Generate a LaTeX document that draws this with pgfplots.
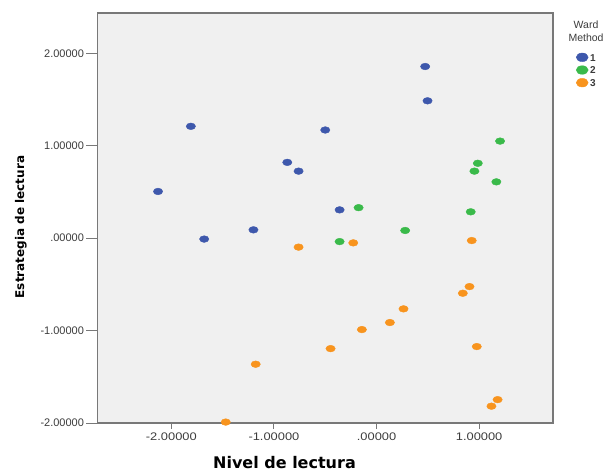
\documentclass[border=0pt]{standalone}
\usepackage{fontspec}
\setmainfont{Liberation Sans}
\newfontfamily\dejavu{DejaVu Sans}
\usepackage{pgfplots}
\pgfplotsset{compat=1.18}
\definecolor{wblue}{RGB}{62,88,172}
\definecolor{wgreen}{RGB}{58,186,74}
\definecolor{worange}{RGB}{248,148,30}
\definecolor{bgc}{RGB}{240,240,240}
\definecolor{framec}{RGB}{120,120,120}
\definecolor{tickc}{RGB}{60,60,60}
\newcommand{\xt}[1]{\scalebox{1.17}[1]{#1}}
\begin{document}
\begin{tikzpicture}[x=1pt,y=1pt]
\useasboundingbox (-97.5,-49) rectangle (515.5,423);
\begin{axis}[
  at={(0,0)}, anchor=south west,
  scale only axis, width=455.5pt, height=410pt,
  xmin=-2.72, xmax=1.72, ymin=-2.0, ymax=2.436,
  axis background/.style={fill=bgc},
  axis line style={framec, line width=1.4pt},
  xtick={-2,-1,0,1},
  xticklabels={\xt{-2.00000},\xt{-1.00000},\xt{.00000},\xt{1.00000}},
  ytick={-2,-1,0,1,2},
  yticklabels={-2.00000,-1.00000,.00000,1.00000,2.00000},
  tick align=outside, tick pos=left, major tick length=6pt,
  tick style={framec, line width=1pt},
  ytick style={/pgfplots/major tick length=11pt},
  tick label style={font=\fontsize{11}{12}\selectfont, text=tickc},
  yticklabel style={xshift=-4pt},
  xlabel={Nivel de lectura}, ylabel={Estrategia de lectura},
  xlabel style={font=\dejavu\bfseries\fontsize{16}{18}\selectfont, at={(axis description cs:0.4105,-0.1105)}, anchor=base, inner sep=0pt},
  ylabel style={font=\dejavu\bfseries\fontsize{12}{14}\selectfont, at={(axis description cs:-0.168,0.478)}, anchor=center, rotate=0},
  clip=false,
  legend style={at={(axis description cs:1.0505,0.904)}, anchor=north west, draw=none, fill=none, inner sep=0pt,
    font=\bfseries\fontsize{10}{10}\selectfont, text=tickc, row sep=3.2pt, column sep=1pt,
    nodes={inner sep=1pt, text height=7.5pt, text depth=0pt}},
  legend cell align=left,
  legend image code/.code={\draw[#1, every mark/.append style={scale=1.28}] plot coordinates {(0pt,0pt)};},
  every axis plot/.append style={only marks, mark=*, mark size=3.35pt},
]
\addplot[mark options={xscale=1.4, fill=wblue, draw=wblue}] coordinates {
(-1.81,1.21) (-0.50,1.17) (-0.87,0.82) (-0.76,0.725) (-2.13,0.505)
(-0.36,0.306) (0.474,1.857) (0.497,1.486) (-1.68,-0.01) (-1.20,0.09)
};
\addlegendentry{1}
\addplot[mark options={xscale=1.4, fill=wgreen, draw=wgreen}] coordinates {
(1.204,1.05) (0.987,0.81) (0.954,0.725) (1.168,0.609) (0.918,0.285)
(-0.175,0.33) (0.279,0.083) (-0.36,-0.037)
};
\addlegendentry{2}
\addplot[mark options={xscale=1.4, fill=worange, draw=worange}] coordinates {
(-0.76,-0.097) (-0.448,-1.195) (-1.178,-1.364) (-1.47,-1.99)
(-0.227,-0.051) (0.928,-0.026) (0.906,-0.524) (0.841,-0.596)
(0.263,-0.765) (0.13,-0.913) (-0.143,-0.989) (0.977,-1.173)
(1.18,-1.747) (1.12,-1.818)
};
\addlegendentry{3}
\node[align=center, text=tickc, font=\fontsize{10.5}{12.5}\selectfont, inner sep=0pt] at (axis description cs:1.0725,0.955) {Ward\\Method};
\end{axis}
\end{tikzpicture}
\end{document}
